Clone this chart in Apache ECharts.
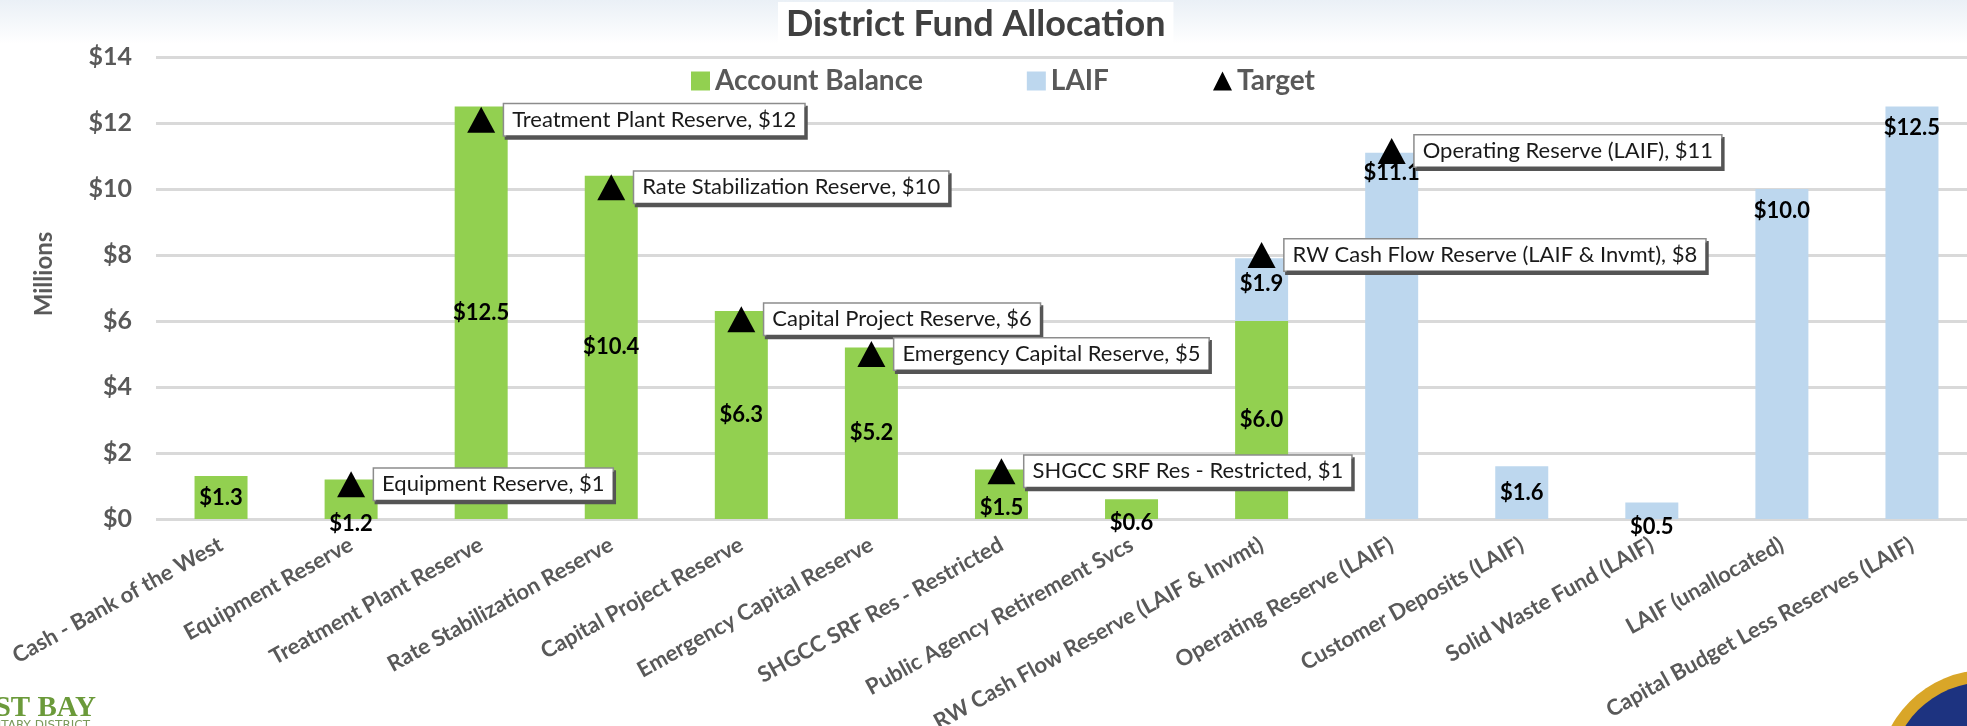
<!DOCTYPE html>
<html>
<head>
<meta charset="utf-8">
<title>District Fund Allocation</title>
<script src="https://cdn.jsdelivr.net/npm/echarts@6/dist/echarts.min.js"></script>
<style>
  html, body { margin: 0; padding: 0; background: #fff; }
  #chart { width: 1967px; height: 726px; }
</style>
</head>
<body>
<div id="chart"></div>
<script>
// values in millions of dollars
const categories = [
  'Cash - Bank of the West',
  'Equipment Reserve',
  'Treatment Plant Reserve',
  'Rate Stabilization Reserve',
  'Capital Project Reserve',
  'Emergency Capital Reserve',
  'SHGCC SRF Res - Restricted',
  'Public Agency Retirement Svcs',
  'RW Cash Flow Reserve (LAIF & Invmt)',
  'Operating Reserve (LAIF)',
  'Customer Deposits (LAIF)',
  'Solid Waste Fund (LAIF)',
  'LAIF (unallocated)',
  'Capital Budget Less Reserves (LAIF)'
];
const accountBalance = [1.3, 1.2, 12.5, 10.4, 6.3, 5.2, 1.5, 0.6, 6.0, null, null, null, null, null];
const laif = [null, null, null, null, null, null, null, null, 1.9, 11.1, 1.6, 0.5, 10.0, 12.5];
const target = [null, 1.05, 12.1, 10.05, 6.05, 5.0, 1.45, null, 8.0, 11.15, null, null, null, null];
const yTicks = [0, 2, 4, 6, 8, 10, 12, 14];

const FONT = 'Lato, "Noto Sans", sans-serif';
const GREEN = '#92d050';
const BLUE = '#bdd7ee';
const GREY = '#595959';

// where the value labels sit, per bar (the slide moves a few of them)
const belowBase = { position: ['50%', '100%'], align: 'center', verticalAlign: 'middle' };
const balanceLabelPlace = {
  1: { ...belowBase, offset: [0, 5] },
  6: { position: ['50%', '78%'], align: 'center', verticalAlign: 'middle' },
  7: { ...belowBase, offset: [0, 4] }
};
const laifLabelPlace = {
  8: { position: 'inside', offset: [0, -6] },
  9: { position: 'insideTop', distance: 9 },
  11: { ...belowBase, offset: [0, 8] },
  12: { position: 'insideTop', distance: 11 },
  13: { position: 'insideTop', distance: 10 }
};

function withLabels(values, place) {
  return values.map((v, i) => {
    if (v == null) return null;
    return place[i] ? { value: v, label: place[i] } : v;
  });
}

const valueLabel = {
  show: true,
  position: 'inside',
  formatter: (p) => '$' + Number(p.value).toFixed(1),
  color: '#000',
  fontSize: 22,
  fontWeight: 'bold',
  fontFamily: FONT
};

const chart = echarts.init(document.getElementById('chart'), null, { renderer: 'canvas' });

chart.setOption({
  animation: false,
  backgroundColor: '#fff',
  textStyle: { fontFamily: FONT },
  title: {
    text: 'District Fund Allocation',
    left: 778,
    top: 2,
    padding: [4, 8],
    backgroundColor: '#fff',
    textStyle: { fontSize: 36, fontWeight: 'bold', color: '#404040', fontFamily: FONT }
  },
  legend: {
    left: 686,
    top: 62,
    itemWidth: 19,
    itemHeight: 19,
    itemGap: 104,
    textStyle: { fontSize: 28, fontWeight: 'bold', color: GREY, fontFamily: FONT },
    data: [
      { name: 'Account Balance', icon: 'rect' },
      { name: 'LAIF', icon: 'rect' },
      { name: 'Target', icon: 'triangle' }
    ]
  },
  // the slide crops the plot a few px past the right edge
  grid: { left: 156, top: 57, width: 1821, bottom: 207, outerBoundsMode: 'none' },
  xAxis: {
    type: 'category',
    data: categories,
    axisLine: { show: false },
    axisTick: { show: false },
    axisLabel: {
      interval: 0,
      rotate: 29,
      margin: 24,
      fontSize: 22,
      fontWeight: 'bold',
      color: GREY,
      fontFamily: FONT
    }
  },
  yAxis: {
    type: 'value',
    min: yTicks[0],
    max: yTicks[yTicks.length - 1],
    interval: yTicks[1] - yTicks[0],
    name: 'Millions',
    nameLocation: 'middle',
    nameRotate: 90,
    nameGap: 100,
    nameTextStyle: { fontSize: 24, fontWeight: 'bold', color: GREY, fontFamily: FONT, padding: [0, 0, 0, 28] },
    axisLine: { show: false },
    axisTick: { show: false },
    axisLabel: {
      formatter: (v) => '$' + v,
      margin: 24,
      fontSize: 25,
      fontWeight: 'bold',
      color: GREY,
      fontFamily: FONT
    },
    splitLine: { lineStyle: { color: '#d9d9d9', width: 3 } }
  },
  series: [
    {
      name: 'Account Balance',
      type: 'bar',
      stack: 'total',
      barWidth: 53,
      itemStyle: { color: GREEN },
      label: valueLabel,
      data: withLabels(accountBalance, balanceLabelPlace)
    },
    {
      name: 'LAIF',
      type: 'bar',
      stack: 'total',
      barWidth: 53,
      itemStyle: { color: BLUE },
      label: valueLabel,
      data: withLabels(laif, laifLabelPlace)
    },
    {
      name: 'Target',
      type: 'scatter',
      symbol: 'triangle',
      symbolSize: [28, 26],
      itemStyle: { color: '#000', opacity: 1 },
      z: 5,
      label: {
        show: true,
        position: 'right',
        distance: 9,
        formatter: (p) => categories[p.dataIndex] + ', $' + Math.round(p.data),
        color: '#1a1a1a',
        fontSize: 22,
        fontFamily: FONT,
        backgroundColor: '#fff',
        borderColor: '#8c8c8c',
        borderWidth: 1.5,
        padding: [5, 8, 4, 8],
        shadowColor: '#555',
        shadowOffsetX: 2,
        shadowOffsetY: 3,
        shadowBlur: 0
      },
      data: target
    }
  ],
  graphic: [
    {
      type: 'rect',
      z: -1,
      silent: true,
      shape: { x: 0, y: 0, width: 1967, height: 44 },
      style: {
        fill: new echarts.graphic.LinearGradient(0, 0, 0, 1, [
          { offset: 0, color: '#eaf0f6' },
          { offset: 1, color: '#ffffff' }
        ])
      }
    },
    {
      type: 'text',
      silent: true,
      x: 96,
      y: 694,
      style: { text: 'EAST BAY', align: 'right', fill: '#6b9a3a', font: 'bold 29px "Liberation Serif", serif' }
    },
    {
      type: 'text',
      silent: true,
      x: 90,
      y: 720,
      style: { text: 'SANITARY DISTRICT', align: 'right', fill: '#7a9a5a', font: '12px "DejaVu Sans", sans-serif' }
    },
    {
      type: 'circle',
      silent: true,
      shape: { cx: 1986, cy: 778, r: 108 },
      style: { fill: '#d9a628' }
    },
    {
      type: 'circle',
      silent: true,
      shape: { cx: 1986, cy: 778, r: 96 },
      style: { fill: '#1d3380' }
    }
  ]
});
</script>
</body>
</html>
